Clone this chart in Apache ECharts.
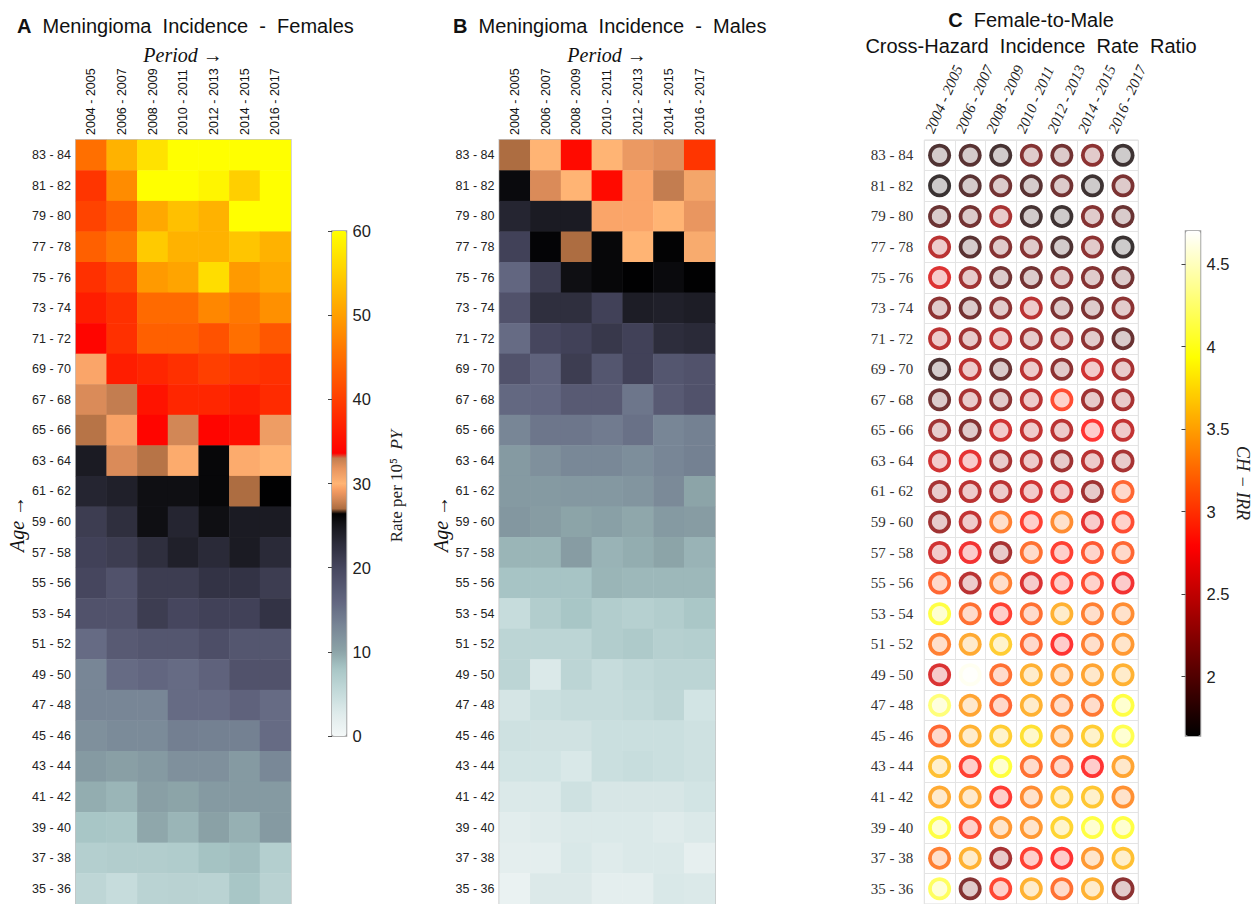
<!DOCTYPE html>
<html><head><meta charset="utf-8">
<script src="https://cdn.jsdelivr.net/npm/echarts/dist/echarts.min.js"></script>
<style>html,body{margin:0;padding:0;background:#fff}#c{width:1254px;height:904px}</style>
</head><body><div id="c"></div>
<script>
// ---------------- DATA ----------------
const periods = ['2004 - 2005','2006 - 2007','2008 - 2009','2010 - 2011','2012 - 2013','2014 - 2015','2016 - 2017'];
const ages = ['83 - 84','81 - 82','79 - 80','77 - 78','75 - 76','73 - 74','71 - 72','69 - 70','67 - 68','65 - 66','63 - 64','61 - 62','59 - 60','57 - 58','55 - 56','53 - 54','51 - 52','49 - 50','47 - 48','45 - 46','43 - 44','41 - 42','39 - 40','37 - 38','35 - 36'];

const femaleRates = [
  [45, 52, 57, 60, 60, 60, 60],
  [39, 48, 60, 60, 59, 55, 60],
  [40.5, 43.5, 51, 53.5, 52, 60, 60],
  [43.5, 46, 54.5, 52, 52, 54, 52],
  [38.5, 41, 49.5, 50.5, 56.5, 49.5, 51],
  [36.5, 38.5, 44.5, 44.5, 47.5, 46, 48.5],
  [34, 38.5, 43.5, 43.5, 42, 45, 42.5],
  [29.5, 36.5, 37.5, 38.5, 40, 39, 38.5],
  [28.3, 33, 35.5, 37.5, 37.5, 36.5, 38],
  [27.3, 29.4, 34, 32.5, 34, 35, 31.3],
  [24.5, 28.3, 27.3, 29.7, 26, 29.7, 30],
  [23.5, 24, 25.5, 25.5, 26, 27, 26.4],
  [21, 22.5, 25.5, 23.5, 25.5, 24.5, 24.5],
  [20.5, 21, 22.5, 24, 23, 24.5, 23],
  [20, 18.5, 21, 21, 22, 22, 21],
  [18.5, 18.5, 21, 20, 20.5, 20.5, 22],
  [15.5, 17.5, 18, 18, 19, 18, 18],
  [13, 15.5, 16, 15.5, 16.5, 18.5, 18.5],
  [13, 13, 13, 15.5, 15.5, 16.5, 15.5],
  [12, 12.5, 12.5, 13.7, 13.5, 13.5, 15.5],
  [11, 10.5, 11, 12, 12, 11, 12.8],
  [9.5, 9, 10.5, 10, 11, 11, 11],
  [8, 7.8, 9.8, 9, 10.3, 9.3, 11],
  [6.8, 7, 7, 7.2, 8.2, 8.5, 6.8],
  [5.8, 5, 6.2, 6.3, 6.2, 8, 6.3]
];

const maleRates = [
  [27, 30, 34.5, 30, 31.5, 32, 39],
  [25.8, 28.3, 30, 34.5, 29.5, 33, 30.8],
  [23.5, 24.5, 24.5, 29.5, 29.5, 30, 31.7],
  [20.5, 26.2, 27, 26, 30, 26.3, 30.5],
  [16, 21, 25.5, 26, 26.4, 25.8, 26.4],
  [18.5, 22.5, 22.5, 20.5, 24.3, 24, 24.3],
  [15.5, 20, 20.5, 21.5, 20.5, 22.7, 23],
  [18.5, 16.5, 21, 18, 20.5, 18, 18.5],
  [15.8, 16, 17.5, 17.5, 14.5, 17.5, 18.5],
  [13, 14.5, 14.5, 14, 15, 13, 13.5],
  [11, 12, 12.8, 12.8, 12.2, 13, 13.5],
  [11, 11, 11.2, 11.2, 11.5, 12.6, 10],
  [11.3, 10.8, 10, 10.4, 9.8, 11, 10.8],
  [9, 9, 10.8, 9.1, 9.5, 10, 9.1],
  [8.1, 8.1, 8.1, 9, 8.8, 8.8, 8.8],
  [5, 7, 8, 7, 6.6, 7, 7.8],
  [6, 6, 6, 7, 7.4, 6.6, 6.8],
  [6, 3, 6, 5, 5.6, 6, 6],
  [3.6, 4.6, 5, 5, 5.3, 5.8, 3.8],
  [4.2, 4, 4, 4.6, 4.6, 4.6, 4.2],
  [3.8, 3.8, 3.2, 4.6, 4.9, 4.6, 4.2],
  [3, 3, 4.2, 3.4, 3.4, 3.4, 3.8],
  [2.2, 2.6, 3, 3, 3, 2.6, 3],
  [2, 2, 3.2, 2.6, 3, 3, 1.8],
  [1.2, 2.9, 2.9, 2, 2, 3.2, 3]
];

const chIRR = [
  [1.8, 1.85, 1.75, 2.1, 2.0, 2.15, 1.7],
  [1.68, 1.85, 2.0, 1.85, 2.0, 1.7, 2.05],
  [1.95, 2.0, 2.3, 1.75, 1.7, 2.1, 1.95],
  [2.4, 1.85, 2.1, 2.1, 1.8, 2.15, 1.68],
  [2.6, 2.25, 2.0, 2.0, 2.15, 2.1, 2.0],
  [2.15, 2.0, 2.15, 2.4, 2.05, 2.05, 2.15],
  [2.4, 2.25, 2.4, 2.25, 2.25, 2.15, 1.95],
  [1.8, 2.42, 1.95, 2.4, 2.15, 2.52, 2.3],
  [2.0, 2.3, 2.15, 2.4, 2.93, 2.25, 2.3],
  [2.25, 2.1, 2.52, 2.45, 2.4, 2.8, 2.45],
  [2.52, 2.65, 2.3, 2.4, 2.25, 2.4, 2.3],
  [2.3, 2.4, 2.4, 2.52, 2.52, 2.25, 3.08],
  [2.25, 2.45, 3.22, 2.87, 3.29, 2.65, 2.93],
  [2.52, 2.72, 2.3, 3.14, 2.87, 3.0, 3.08],
  [3.08, 2.4, 3.22, 2.58, 2.87, 2.93, 2.72],
  [4.0, 3.14, 2.87, 3.14, 3.5, 3.22, 3.29],
  [3.22, 3.46, 3.65, 3.1, 2.8, 3.22, 3.36],
  [2.58, 4.65, 3.14, 3.5, 3.36, 3.43, 3.5],
  [4.2, 3.43, 3.08, 3.5, 3.22, 3.18, 4.0],
  [3.08, 3.5, 3.65, 3.77, 3.36, 3.65, 4.05],
  [3.58, 2.87, 3.97, 3.14, 3.08, 2.8, 3.43],
  [3.46, 3.46, 2.84, 3.29, 3.62, 3.62, 3.32],
  [4.0, 2.93, 3.36, 3.36, 3.7, 4.0, 4.0],
  [3.22, 3.5, 2.3, 2.87, 2.8, 3.36, 3.58],
  [4.1, 2.1, 2.9, 3.5, 3.14, 3.5, 2.15]
];

const rateTicks = [0, 10, 20, 30, 40, 50, 60];
const irrTicks = [2, 2.5, 3, 3.5, 4, 4.5];
const irrRange = [1.64, 4.70];

// ---------------- COLOR MAPS ----------------
const lowStops = [[0,'#f4f8f8'],[2.5,'#e0ecec'],[5,'#c6dcdc'],[8,'#a8c6c6'],[10,'#8ca4a8'],[13,'#788696'],[16,'#626680'],[20,'#46465e'],[23,'#2a2a38'],[25,'#16161c'],[26.5,'#000000']];
const midStops = [[26.5,'#9c6238'],[28.25,'#d88a58'],[29.2,'#f79c62'],[30,'#ffb474'],[31.75,'#e8955f'],[33.5,'#b4744a']];
const highStops = [[33.5,'#ff0000'],[60,'#ffff00']];
function hex2rgb(h){return [parseInt(h.slice(1,3),16),parseInt(h.slice(3,5),16),parseInt(h.slice(5,7),16)];}
function rgb2hex(c){return '#'+c.map(v=>Math.round(Math.max(0,Math.min(255,v))).toString(16).padStart(2,'0')).join('');}
function interpStops(stops, v){
  for(let i=0;i<stops.length-1;i++){
    const [a,ca]=stops[i],[b,cb]=stops[i+1];
    if(v<=b){const t=(v-a)/(b-a);const A=hex2rgb(ca),B=hex2rgb(cb);return rgb2hex(A.map((x,k)=>x+(B[k]-x)*t));}
  }
  return stops[stops.length-1][1];
}
function rateColor(v){ if(v<=26.5) return interpStops(lowStops,v); if(v<=33.5) return interpStops(midStops,v); return interpStops(highStops,v); }
const rateColors=[]; for(let i=0;i<=600;i++) rateColors.push(rateColor(i/10));
function hot(x){const r=Math.min(1,Math.max(0,x/0.375)),g=Math.min(1,Math.max(0,(x-0.375)/0.375)),b=Math.min(1,Math.max(0,(x-0.75)/0.25));return rgb2hex([r*255,g*255,b*255]);}
const irrColors=[]; for(let i=0;i<=300;i++) irrColors.push(hot(i/300));

function toCells(m){const out=[];m.forEach((row,r)=>row.forEach((v,c)=>out.push([c,r,v])));return out;}

// ---------------- CHART ----------------
const sans='Liberation Sans', serif='Liberation Serif';
const chart = echarts.init(document.getElementById('c'), null, {renderer:'svg', width:1254, height:904});
const catX = (gi)=>({type:'category', gridIndex:gi, data:periods, position:'top', axisLine:{show:false}, axisTick:{show:false},
  axisLabel:{rotate:-90, fontSize:12.5, fontFamily:sans, color:'#111', margin:5, interval:0}, splitLine:{show:false}});
const catY = (gi)=>({type:'category', gridIndex:gi, data:ages, inverse:true, axisLine:{show:false}, axisTick:{show:false},
  axisLabel:{fontSize:12.5, fontFamily:sans, color:'#222', margin:5, interval:0}, splitLine:{show:false}});

const option = {
  animation:false,
  backgroundColor:'#ffffff',
  grid:[
    {left:76, top:140, width:214.7, height:767.5, show:true, borderColor:'#c4c4c4', borderWidth:2},
    {left:499.5, top:140, width:215.5, height:767.5, show:true, borderColor:'#c4c4c4', borderWidth:2},
    {left:924.3, top:140, width:214, height:767.5, show:true, borderColor:'#dcdcdc', borderWidth:1},
    {left:332, top:231, width:14.5, height:505, show:true, borderColor:'#9a9a9a', borderWidth:1.5},
    {left:1185.5, top:231, width:15, height:505, show:true, borderColor:'#9a9a9a', borderWidth:1.5}
  ],
  xAxis:[
    catX(0), catX(1),
    {type:'category', gridIndex:2, data:periods, position:'top', axisLine:{show:false}, axisTick:{show:false},
     axisLabel:{rotate:-66, fontSize:15, fontFamily:serif, fontStyle:'italic', color:'#222', margin:3, interval:0,
                verticalAlign:'bottom', padding:[0,0,4,0]},
     splitLine:{show:true, interval:0, lineStyle:{color:'#e4e4e4', width:1}}},
    {type:'value', gridIndex:3, show:false},
    {type:'value', gridIndex:4, show:false}
  ],
  yAxis:[
    catY(0), catY(1),
    {type:'category', gridIndex:2, data:ages, inverse:true, axisLine:{show:false}, axisTick:{show:false},
     axisLabel:{fontSize:15, fontFamily:serif, color:'#333', margin:11, interval:0},
     splitLine:{show:true, interval:0, lineStyle:{color:'#e4e4e4', width:1}}},
    {type:'value', gridIndex:3, min:0, max:60, interval:10, position:'right', z:10,
     axisLine:{show:false}, axisTick:{show:true, inside:true, length:4, lineStyle:{color:'#444'}},
     axisLabel:{fontSize:16.5, fontFamily:sans, color:'#222', margin:6}, splitLine:{show:false}},
    {type:'value', gridIndex:4, min:irrRange[0], max:irrRange[1], position:'right', z:10,
     axisLine:{show:false}, axisTick:{show:true, inside:true, length:4, customValues:irrTicks, lineStyle:{color:'#444'}},
     axisLabel:{fontSize:16.5, fontFamily:sans, color:'#222', margin:6, customValues:irrTicks}, splitLine:{show:false}}
  ],
  visualMap:[
    {type:'continuous', min:0, max:60, dimension:2, seriesIndex:[0,1], inRange:{color:rateColors},
     calculable:false, orient:'vertical', left:332, top:231, itemWidth:14.5, itemHeight:505, padding:0, hoverLink:false},
    {type:'continuous', min:irrRange[0], max:irrRange[1], dimension:2, seriesIndex:[2], inRange:{color:irrColors},
     calculable:false, orient:'vertical', left:1185.5, top:231, itemWidth:15, itemHeight:505, padding:0, hoverLink:false}
  ],
  series:[
    {type:'heatmap', xAxisIndex:0, yAxisIndex:0, data:toCells(femaleRates), silent:true, emphasis:{disabled:true}},
    {type:'heatmap', xAxisIndex:1, yAxisIndex:1, data:toCells(maleRates), silent:true, emphasis:{disabled:true}},
    {type:'scatter', xAxisIndex:2, yAxisIndex:2, data:toCells(chIRR), symbol:'circle', symbolSize:23, silent:true, z:2},
    {type:'scatter', xAxisIndex:2, yAxisIndex:2, data:toCells(chIRR), symbol:'circle', symbolSize:15.5, silent:true, z:3,
     itemStyle:{color:'#ffffff', opacity:0.75}}
  ],
  graphic:[
    {type:'text', x:17, y:25.5, style:{text:'{b|A}  Meningioma  Incidence  -  Females', fontSize:20, fontFamily:sans, fill:'#111', verticalAlign:'middle',
      rich:{b:{fontWeight:'bold', fontSize:20, fontFamily:sans, fill:'#111'}}}},
    {type:'text', x:453, y:25.5, style:{text:'{b|B}  Meningioma  Incidence  -  Males', fontSize:20, fontFamily:sans, fill:'#111', verticalAlign:'middle',
      rich:{b:{fontWeight:'bold', fontSize:20, fontFamily:sans, fill:'#111'}}}},
    {type:'text', x:1031, y:20, style:{text:'{b|C}  Female-to-Male', fontSize:20, fontFamily:sans, fill:'#111', align:'center', verticalAlign:'middle',
      rich:{b:{fontWeight:'bold', fontSize:20, fontFamily:sans, fill:'#111'}}}},
    {type:'text', x:1031, y:45.5, style:{text:'Cross-Hazard  Incidence  Rate  Ratio', fontSize:20, fontFamily:sans, fill:'#111', align:'center', verticalAlign:'middle'}},
    {type:'text', x:183, y:55, style:{text:'Period →', fontSize:20, fontFamily:serif, fontStyle:'italic', fill:'#111', align:'center', verticalAlign:'middle'}},
    {type:'text', x:607, y:55, style:{text:'Period →', fontSize:20, fontFamily:serif, fontStyle:'italic', fill:'#111', align:'center', verticalAlign:'middle'}},
    {type:'text', x:17, y:524, rotation:Math.PI/2, style:{text:'Age →', fontSize:20, fontFamily:serif, fontStyle:'italic', fill:'#111', align:'center', verticalAlign:'middle'}},
    {type:'text', x:441, y:524, rotation:Math.PI/2, style:{text:'Age →', fontSize:20, fontFamily:serif, fontStyle:'italic', fill:'#111', align:'center', verticalAlign:'middle'}},
    {type:'text', x:396, y:486, rotation:Math.PI/2, style:{text:'Rate per 10⁵  {i|PY}', fontSize:17, fontFamily:serif, fill:'#222', align:'center', verticalAlign:'middle',
      rich:{i:{fontStyle:'italic', fontSize:17, fontFamily:serif, fill:'#222'}}}},
    {type:'text', x:1243, y:483, rotation:-Math.PI/2, style:{text:'CH − IRR', fontSize:18, fontFamily:serif, fontStyle:'italic', fill:'#222', align:'center', verticalAlign:'middle'}}
  ]
};
chart.setOption(option);
</script>
</body></html>
